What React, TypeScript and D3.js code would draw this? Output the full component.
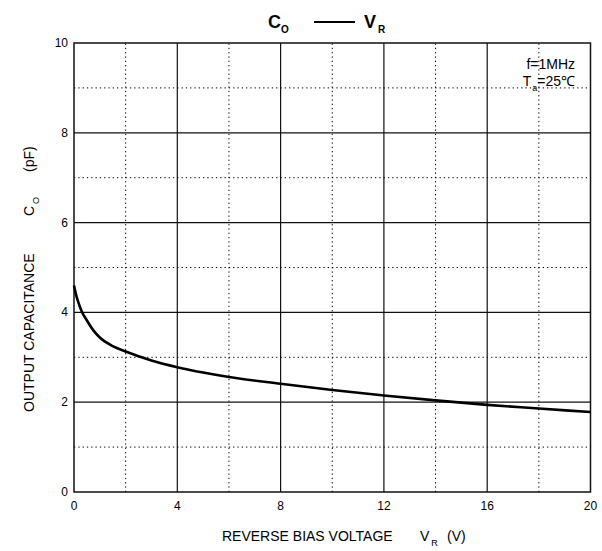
import * as d3 from "d3";
import { useEffect, useRef } from "react";

// reverse bias voltage (V) and output capacitance (pF)
const voltage = [0, 0.1, 0.2, 0.3, 0.5, 0.75, 1, 1.5, 2, 3, 4, 5, 6, 8, 10, 12, 14, 16, 18, 20];
const capacitance = [4.6, 4.35, 4.17, 4.02, 3.82, 3.6, 3.44, 3.25, 3.13, 2.93, 2.78, 2.66, 2.56, 2.41, 2.27, 2.15, 2.04, 1.94, 1.86, 1.78];

const xTicks = [0, 4, 8, 12, 16, 20];
const xMinor = [2, 6, 10, 14, 18];
const yTicks = [0, 2, 4, 6, 8, 10];
const yMinor = [1, 3, 5, 7, 9];

const App = () => {
  const svgRef = useRef<SVGSVGElement | null>(null);
  const w = 602;
  const h = 551;
  const m = { top: 43, right: 11.5, bottom: 59, left: 74 };
  const font = "'Liberation Sans', Arial, sans-serif";

  useEffect(() => {
    if (!svgRef.current) return;
    const svg = d3.select(svgRef.current);
    svg.selectAll("*").remove();

    const x = d3.scaleLinear().domain([0, 20]).range([m.left, w - m.right]);
    const y = d3.scaleLinear().domain([0, 10]).range([h - m.bottom, m.top]);

    const g = svg.append("g");

    // dotted minor grid
    g.selectAll(".xminor").data(xMinor).enter().append("line")
      .attr("x1", d => x(d)).attr("x2", d => x(d))
      .attr("y1", y(0)).attr("y2", y(10))
      .attr("stroke", "#000").attr("stroke-width", 1)
      .attr("stroke-dasharray", "1.3,3");
    g.selectAll(".yminor").data(yMinor).enter().append("line")
      .attr("y1", d => y(d)).attr("y2", d => y(d))
      .attr("x1", x(0)).attr("x2", x(20))
      .attr("stroke", "#000").attr("stroke-width", 1)
      .attr("stroke-dasharray", "1.3,3");

    // solid major grid
    g.selectAll(".xmajor").data(xTicks.slice(1, -1)).enter().append("line")
      .attr("x1", d => x(d)).attr("x2", d => x(d))
      .attr("y1", y(0)).attr("y2", y(10))
      .attr("stroke", "#111").attr("stroke-width", 1.2);
    g.selectAll(".ymajor").data(yTicks.slice(1, -1)).enter().append("line")
      .attr("y1", d => y(d)).attr("y2", d => y(d))
      .attr("x1", x(0)).attr("x2", x(20))
      .attr("stroke", "#111").attr("stroke-width", 1.2);

    // frame
    g.append("rect")
      .attr("x", x(0)).attr("y", y(10))
      .attr("width", x(20) - x(0)).attr("height", y(0) - y(10))
      .attr("fill", "none").attr("stroke", "#111").attr("stroke-width", 1.5);

    // curve
    const pts: [number, number][] = voltage.map((v, i) => [v, capacitance[i]]);
    const line = d3.line<[number, number]>()
      .x(d => x(d[0])).y(d => y(d[1]))
      .curve(d3.curveMonotoneX);
    g.append("path").attr("d", line(pts)!)
      .attr("fill", "none").attr("stroke", "#000").attr("stroke-width", 2.6);

    // tick labels
    g.selectAll(".xl").data(xTicks).enter().append("text")
      .attr("x", d => x(d)).attr("y", y(0) + 18)
      .attr("text-anchor", "middle")
      .attr("font-family", font).attr("font-size", 12)
      .text(d => d);
    g.selectAll(".yl").data(yTicks).enter().append("text")
      .attr("x", x(0) - 6).attr("y", d => y(d) + 4)
      .attr("text-anchor", "end")
      .attr("font-family", font).attr("font-size", 12)
      .text(d => d);

    // title: C_O —— V_R
    const tt = svg.append("g")
      .attr("font-family", font).attr("font-weight", "bold");
    const t1 = tt.append("text").attr("x", 268).attr("y", 28).attr("font-size", 18);
    t1.append("tspan").text("C");
    t1.append("tspan").attr("font-size", 10).attr("dy", 5).text("O");
    tt.append("line")
      .attr("x1", 314).attr("x2", 355).attr("y1", 22).attr("y2", 22)
      .attr("stroke", "#000").attr("stroke-width", 2);
    const t2 = tt.append("text").attr("x", 364).attr("y", 28).attr("font-size", 18);
    t2.append("tspan").text("V");
    t2.append("tspan").attr("font-size", 10).attr("dy", 5).attr("dx", 2).text("R");

    // x label
    const xl = svg.append("text")
      .attr("x", 222).attr("y", 541)
      .attr("font-family", font).attr("font-size", 14);
    xl.append("tspan").text("REVERSE BIAS VOLTAGE");
    xl.append("tspan").attr("x", 420).text("V");
    xl.append("tspan").attr("font-size", 9).attr("dy", 5).attr("dx", 2).text("R");
    xl.append("tspan").attr("dy", -5).attr("x", 447).text("(V)");

    // y label
    const yl = svg.append("text")
      .attr("transform", `translate(34, 0) rotate(-90)`)
      .attr("font-family", font).attr("font-size", 14);
    yl.append("tspan").attr("x", -412).text("OUTPUT CAPACITANCE");
    yl.append("tspan").attr("x", -216).text("C");
    yl.append("tspan").attr("font-size", 9).attr("dy", 5).attr("dx", 2).text("O");
    yl.append("tspan").attr("dy", -5).attr("x", -172).text("(pF)");

    // conditions
    svg.append("text")
      .attr("x", 575).attr("y", 69)
      .attr("text-anchor", "end")
      .attr("font-family", font).attr("font-size", 14)
      .text("f=1MHz");
    const ta = svg.append("text")
      .attr("x", 575).attr("y", 86)
      .attr("text-anchor", "end")
      .attr("font-family", font).attr("font-size", 14);
    ta.append("tspan").text("T");
    ta.append("tspan").attr("font-size", 9).attr("dy", 5).attr("dx", 1).text("a");
    ta.append("tspan").attr("dy", -5).text("=25\u2103");
  }, []);

  return (
    <svg ref={svgRef} width={w} height={h}
      style={{ position: "absolute", left: 0, top: 0, background: "#fff" }} />
  );
};

export default App;
